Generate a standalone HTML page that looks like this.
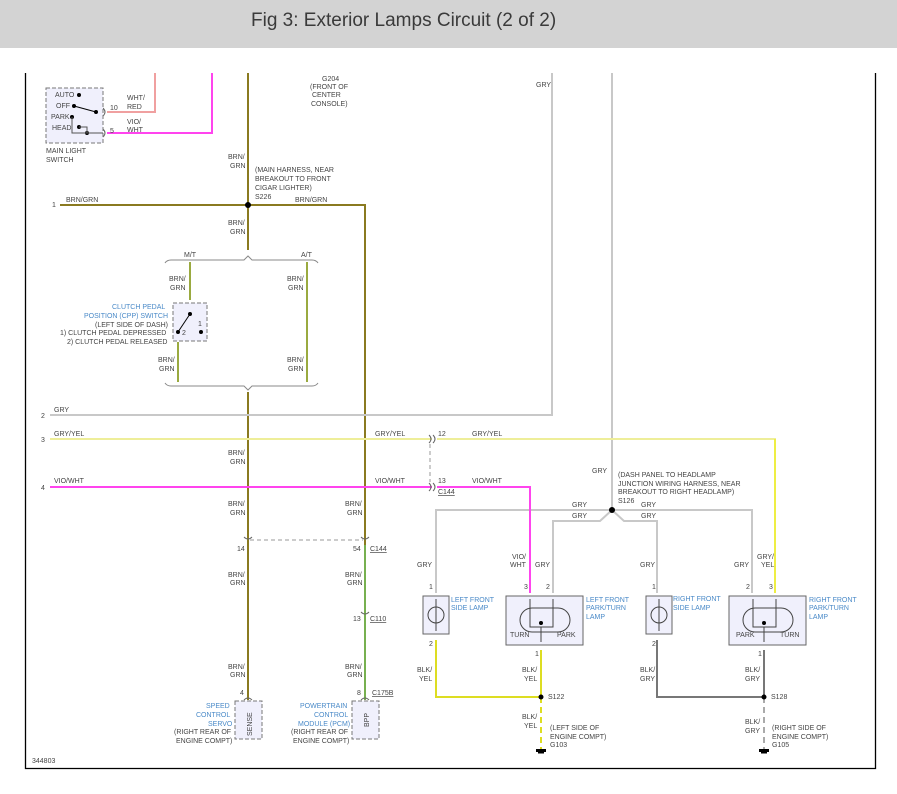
<!DOCTYPE html>
<html><head><meta charset="utf-8"><style>
html,body{margin:0;padding:0;background:#fff;width:897px;height:794px;overflow:hidden}
.hdr{position:absolute;left:0;top:0;width:897px;height:48px;background:#d3d3d3}
.hdr span{position:absolute;left:251px;top:10px;font:19px "Liberation Sans",sans-serif;color:#3a3a3a}
svg{position:absolute;left:0;top:0}
text{font-family:"Liberation Sans",sans-serif;font-size:7px;fill:#444}
.b{fill:#4a8ac8}
</style></head><body>
<div class="hdr"><span>Fig 3: Exterior Lamps Circuit (2 of 2)</span></div>
<svg width="897" height="794" viewBox="0 0 897 794">
<path d="M25.5 73V768.5H875.5V73" fill="none" stroke="#000" stroke-width="1.3"/>
<g fill="none" stroke-width="2">
<path d="M155 73V112H107" stroke="#f0a0a0"/>
<path d="M212 73V133H107" stroke="#ff44ee"/>
<path d="M248 73V250M60 205H365V700" stroke="#8a7a20"/>
<path d="M365 545V700" stroke="#77b050"/>
<path d="M190 262V300M178 342V382M307 262V382" stroke="#9aaa40"/>
<path d="M248 392V700" stroke="#8a7a20"/>
<path d="M50 415H552V73" stroke="#c8c8c8"/>
<path d="M612 73V510" stroke="#c8c8c8"/>
<path d="M436 593V510H752V593M553 593V521H600L612 510L624 521H657V593" stroke="#c8c8c8"/>
<path d="M50 439H432M437 439H775V593" stroke="#eeee99"/>
<path d="M775 439V593" stroke="#eeee44"/>
<path d="M50 487H432M437 487H530V593" stroke="#ff44ee"/>
<path d="M436 640V697H541V650" stroke="#dddd22"/>
<path d="M657 640V697H764V650" stroke="#777"/>
</g>
<path d="M541 697V750" stroke="#dddd22" stroke-width="2" stroke-dasharray="6,4"/>
<path d="M764 697V750" stroke="#aaa" stroke-width="2" stroke-dasharray="6,4"/>
<g fill="none" stroke="#999" stroke-dasharray="4,3"><path d="M430 444V482M250 540H363"/></g>
<g fill="none" stroke="#888"><path d="M165 263Q167 260 171 260H244L248 256L252 260H312Q316 260 318 263"/><path d="M165 383Q167 386 171 386H244L248 390L252 386H312Q316 386 318 383"/></g>
<g fill="none" stroke="#666"><path d="M429 435Q433 439 429 443M433 435Q437 439 433 443M429 483Q433 487 429 491M433 483Q437 487 433 491M244 537Q248 541 252 537M361 537Q365 541 369 537M361 612Q365 616 369 612M244 700Q248 696 252 700M361 700Q365 696 369 700M103 108Q107 112 103 116M103 129Q107 133 103 137"/></g>
<g fill="#000"><circle cx="248" cy="205" r="3"/><circle cx="612" cy="510" r="3"/><circle cx="541" cy="697" r="2.5"/><circle cx="764" cy="697" r="2.5"/></g>
<g fill="#000"><rect x="536" y="749" width="10" height="3"/><rect x="538" y="752" width="6" height="1.5"/><rect x="759" y="749" width="10" height="3"/><rect x="761" y="752" width="6" height="1.5"/></g>
<g fill="#f0f0fc" stroke="#777" stroke-dasharray="4,2"><rect x="46" y="88" width="57" height="55"/><rect x="173" y="303" width="34" height="38"/><rect x="235" y="701" width="27" height="38"/><rect x="352" y="701" width="27" height="38"/></g>
<g stroke="#000" fill="#000"><circle cx="79" cy="95" r="1.5"/><circle cx="74" cy="106" r="1.5"/><circle cx="96" cy="112" r="1.5"/><circle cx="72" cy="117" r="1.5"/><circle cx="79" cy="127" r="1.5"/><circle cx="87" cy="133" r="1.5"/><path d="M74 106L96 112" fill="none"/><path d="M79 127H87V133H103M72 117V133H87" fill="none" stroke="#555"/>
<circle cx="190" cy="314" r="1.5"/><circle cx="178" cy="332" r="1.5"/><circle cx="201" cy="332" r="1.5"/><path d="M190 314L178 332" fill="none"/></g>
<text x="55" y="97">AUTO</text><text x="56" y="108">OFF</text><text x="51" y="119">PARK</text><text x="52" y="130">HEAD</text>
<text x="46" y="153">MAIN LIGHT</text><text x="46" y="162">SWITCH</text>
<text x="110" y="110">10</text><text x="127" y="100">WHT/</text><text x="127" y="109">RED</text>
<text x="110" y="133">5</text><text x="127" y="124">VIO/</text><text x="127" y="132">WHT</text>
<text x="322" y="81">G204</text><text x="310" y="89">(FRONT OF</text><text x="312" y="97">CENTER</text><text x="311" y="106">CONSOLE)</text>
<text x="228" y="159">BRN/</text><text x="230" y="168">GRN</text>
<text x="255" y="172">(MAIN HARNESS, NEAR</text><text x="255" y="181">BREAKOUT TO FRONT</text><text x="255" y="190">CIGAR LIGHTER)</text><text x="255" y="199">S226</text>
<text x="52" y="207">1</text><text x="66" y="202">BRN/GRN</text><text x="295" y="202">BRN/GRN</text>
<text x="228" y="225">BRN/</text><text x="230" y="234">GRN</text>
<text x="184" y="257">M/T</text><text x="301" y="257">A/T</text>
<text x="169" y="281">BRN/</text><text x="170" y="290">GRN</text><text x="287" y="281">BRN/</text><text x="288" y="290">GRN</text>
<text class="b" x="112" y="309">CLUTCH PEDAL</text><text class="b" x="84" y="318">POSITION (CPP) SWITCH</text>
<text x="95" y="327">(LEFT SIDE OF DASH)</text><text x="60" y="335">1) CLUTCH PEDAL DEPRESSED</text><text x="67" y="344">2) CLUTCH PEDAL RELEASED</text>
<text x="182" y="335">2</text><text x="198" y="326">1</text>
<text x="158" y="362">BRN/</text><text x="159" y="371">GRN</text><text x="287" y="362">BRN/</text><text x="288" y="371">GRN</text>
<text x="41" y="418">2</text><text x="54" y="412">GRY</text>
<text x="41" y="442">3</text><text x="54" y="436">GRY/YEL</text><text x="375" y="436">GRY/YEL</text><text x="438" y="436">12</text><text x="472" y="436">GRY/YEL</text>
<text x="41" y="490">4</text><text x="54" y="483">VIO/WHT</text><text x="375" y="483">VIO/WHT</text><text x="438" y="483">13</text><text x="472" y="483">VIO/WHT</text>
<text x="438" y="494" text-decoration="underline">C144</text>
<text x="536" y="87">GRY</text>
<text x="228" y="455">BRN/</text><text x="230" y="464">GRN</text>
<text x="228" y="506">BRN/</text><text x="230" y="515">GRN</text><text x="345" y="506">BRN/</text><text x="347" y="515">GRN</text>
<text x="237" y="551">14</text><text x="353" y="551">54</text><text x="370" y="551" text-decoration="underline">C144</text>
<text x="228" y="577">BRN/</text><text x="230" y="585">GRN</text><text x="345" y="577">BRN/</text><text x="347" y="585">GRN</text>
<text x="353" y="621">13</text><text x="370" y="621" text-decoration="underline">C110</text>
<text x="228" y="669">BRN/</text><text x="230" y="677">GRN</text><text x="345" y="669">BRN/</text><text x="347" y="677">GRN</text>
<text x="240" y="695">4</text><text x="357" y="695">8</text><text x="372" y="695" text-decoration="underline">C175B</text>
<text x="252" y="736" transform="rotate(-90 252 736)" font-size="7">SENSE</text>
<text x="369" y="727" transform="rotate(-90 369 727)">BPP</text>
<text class="b" x="206" y="708">SPEED</text><text class="b" x="196" y="717">CONTROL</text><text class="b" x="208" y="726">SERVO</text>
<text x="174" y="734">(RIGHT REAR OF</text><text x="176" y="743">ENGINE COMPT)</text>
<text class="b" x="300" y="708">POWERTRAIN</text><text class="b" x="314" y="717">CONTROL</text><text class="b" x="298" y="726">MODULE (PCM)</text>
<text x="291" y="734">(RIGHT REAR OF</text><text x="293" y="743">ENGINE COMPT)</text>
<text x="32" y="763">344803</text>
<text x="592" y="473">GRY</text>
<text x="618" y="477">(DASH PANEL TO HEADLAMP</text><text x="618" y="486">JUNCTION WIRING HARNESS, NEAR</text><text x="618" y="494">BREAKOUT TO RIGHT HEADLAMP)</text><text x="618" y="503">S126</text>
<text x="572" y="507">GRY</text><text x="572" y="518">GRY</text><text x="641" y="507">GRY</text><text x="641" y="518">GRY</text>
<text x="417" y="567">GRY</text><text x="512" y="559">VIO/</text><text x="510" y="567">WHT</text><text x="535" y="567">GRY</text>
<text x="640" y="567">GRY</text><text x="734" y="567">GRY</text><text x="757" y="559">GRY/</text><text x="761" y="567">YEL</text>
<text x="429" y="589">1</text><text x="524" y="589">3</text><text x="546" y="589">2</text><text x="652" y="589">1</text><text x="746" y="589">2</text><text x="769" y="589">3</text>
<g fill="#f0f0fc" stroke="#666"><rect x="423" y="596" width="26" height="38"/><rect x="506" y="596" width="77" height="49"/><rect x="646" y="596" width="26" height="38"/><rect x="729" y="596" width="77" height="49"/></g>
<g fill="none" stroke="#444"><circle cx="436" cy="615" r="8"/><circle cx="659" cy="615" r="8"/><rect x="520" y="608" width="50" height="24" rx="12"/><rect x="743" y="608" width="50" height="24" rx="12"/>
<path d="M436 599V631M659 599V631M530 599V627H553V599M541 627V642M753 599V627H776V599M764 627V642"/></g>
<g fill="#000"><circle cx="541" cy="623" r="2"/><circle cx="764" cy="623" r="2"/></g>
<text class="b" x="451" y="602">LEFT FRONT</text><text class="b" x="451" y="610">SIDE LAMP</text>
<text class="b" x="586" y="602">LEFT FRONT</text><text class="b" x="586" y="610">PARK/TURN</text><text class="b" x="586" y="619">LAMP</text>
<text class="b" x="673" y="601">RIGHT FRONT</text><text class="b" x="673" y="610">SIDE LAMP</text>
<text class="b" x="809" y="602">RIGHT FRONT</text><text class="b" x="809" y="610">PARK/TURN</text><text class="b" x="809" y="619">LAMP</text>
<text x="510" y="637">TURN</text><text x="557" y="637">PARK</text><text x="736" y="637">PARK</text><text x="780" y="637">TURN</text>
<text x="429" y="646">2</text><text x="535" y="656">1</text><text x="652" y="646">2</text><text x="758" y="656">1</text>
<text x="417" y="672">BLK/</text><text x="419" y="681">YEL</text><text x="522" y="672">BLK/</text><text x="524" y="681">YEL</text>
<text x="640" y="672">BLK/</text><text x="640" y="681">GRY</text><text x="745" y="672">BLK/</text><text x="745" y="681">GRY</text>
<text x="548" y="699">S122</text><text x="771" y="699">S128</text>
<text x="522" y="719">BLK/</text><text x="524" y="728">YEL</text><text x="745" y="724">BLK/</text><text x="745" y="733">GRY</text>
<text x="550" y="730">(LEFT SIDE OF</text><text x="550" y="739">ENGINE COMPT)</text><text x="772" y="730">(RIGHT SIDE OF</text><text x="772" y="739">ENGINE COMPT)</text>
<text x="550" y="747">G103</text><text x="772" y="747">G105</text>
</svg>
</body></html>
